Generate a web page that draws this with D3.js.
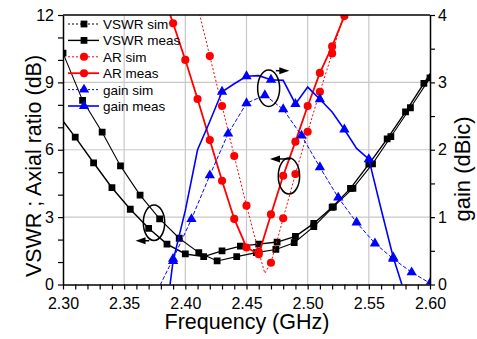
<!DOCTYPE html>
<html>
<head>
<meta charset="utf-8">
<script src="https://cdn.jsdelivr.net/npm/d3@7/dist/d3.min.js"></script>
<style>
body { margin: 0; background: #fff; }
text { font-family: "Liberation Sans", Arial, sans-serif; fill: #000; }
</style>
</head>
<body>
<div class="chart"></div>
<script>
// VSWR (left axis, dB scale)
const vswrSimF = [2.300, 2.316, 2.332, 2.347, 2.363, 2.379, 2.395, 2.411, 2.426, 2.442,
	2.458, 2.474, 2.489, 2.505, 2.521, 2.537, 2.553, 2.568, 2.584, 2.600];
const vswrSimV = [10.3, 8.2, 6.78, 5.28, 3.98, 2.92, 2.06, 1.42, 1.05, 1.24,
	1.42, 1.56, 1.86, 2.58, 3.46, 4.28, 5.37, 6.58, 7.87, 9.2];

const vswrMeasF = [2.295, 2.31, 2.325, 2.34, 2.355, 2.37, 2.385, 2.40, 2.415, 2.43, 2.445,
	2.46, 2.475, 2.49, 2.505, 2.52, 2.535, 2.55, 2.565, 2.58, 2.595, 2.61];
const vswrMeasV = [7.64, 6.56, 5.42, 4.31, 3.35, 2.50, 1.80, 1.36, 1.24, 1.50, 1.71,
	1.80, 1.89, 2.14, 2.72, 3.44, 4.28, 5.36, 6.48, 7.69, 8.96, 10.2];

// axial ratio (left axis)
const arSimF = [2.41, 2.42, 2.43, 2.44, 2.45, 2.46, 2.465, 2.47, 2.48, 2.49, 2.50, 2.51, 2.52, 2.53];
const arSimV = [12.4, 10.17, 7.95, 5.72, 3.51, 1.45, 0.5, 0.97, 2.95, 4.92, 6.80, 8.58, 10.29, 12.1];
const arSimMarks = [2.41, 2.42, 2.43, 2.44, 2.45, 2.46, 2.47, 2.48, 2.49, 2.50, 2.51, 2.52, 2.53];

const arMeasF = [2.38, 2.39, 2.40, 2.41, 2.42, 2.43, 2.44, 2.45, 2.46, 2.47, 2.48, 2.49, 2.50, 2.51, 2.52, 2.53];
const arMeasV = [13.2, 11.63, 10.0, 8.26, 6.43, 4.62, 2.92, 1.65, 1.35, 3.12, 4.84, 6.36, 7.95, 9.42, 10.6, 11.95];

// gain (right axis, dBic)
const gainSimF = [2.375, 2.39, 2.405, 2.42, 2.435, 2.45, 2.465, 2.48, 2.495, 2.51, 2.525, 2.54, 2.555, 2.57, 2.585, 2.60];
const gainSimV = [-0.17, 0.38, 0.97, 1.62, 2.24, 2.69, 2.81, 2.60, 2.21, 1.74, 1.29, 0.92, 0.61, 0.38, 0.18, 0.02];

const gainMeasF = [2.38, 2.39, 2.40, 2.41, 2.42, 2.43, 2.44, 2.45, 2.46, 2.47, 2.48, 2.49, 2.50,
	2.51, 2.52, 2.53, 2.54, 2.55, 2.56, 2.57, 2.58];
const gainMeasV = [-1.05, 0.35, 1.1, 2.0, 2.42, 2.86, 2.98, 3.09, 3.10, 3.04, 3.03, 2.68, 2.93,
	2.75, 2.56, 2.30, 2.02, 1.86, 1.12, 0.40, -0.17];
const gainMeasMarks = [2.39, 2.43, 2.45, 2.47, 2.49, 2.51, 2.53, 2.55, 2.57];

const xTicks = [2.30, 2.35, 2.40, 2.45, 2.50, 2.55, 2.60];
const yLeftTicks = [0, 3, 6, 9, 12];
const yRightTicks = [0, 1, 2, 3, 4];

let width = 477, height = 339;
let pLeft = 63, pRight = 430, pTop = 15, pBottom = 284.5;

let svg = d3.select(".chart")
	.append("svg")
	.attr("width", width)
	.attr("height", height);

let x = d3.scaleLinear().domain([2.30, 2.60]).range([pLeft, pRight]);
let yL = d3.scaleLinear().domain([0, 12]).range([pBottom, pTop]);
let yR = d3.scaleLinear().domain([0, 4]).range([pBottom, pTop]);

svg.append("clipPath").attr("id", "plot")
	.append("rect")
	.attr("x", pLeft).attr("y", pTop)
	.attr("width", pRight - pLeft).attr("height", pBottom - pTop);

// grid
let grid = svg.append("g");
grid.selectAll(".gx")
	.data(xTicks.slice(1, -1))
	.enter().append("line")
	.attr("x1", d => x(d)).attr("x2", d => x(d))
	.attr("y1", pTop).attr("y2", pBottom)
	.attr("stroke", "#c8c8c8").attr("stroke-width", 1.2);
grid.selectAll(".gy")
	.data(yLeftTicks.slice(1, -1))
	.enter().append("line")
	.attr("x1", pLeft).attr("x2", pRight)
	.attr("y1", d => yL(d)).attr("y2", d => yL(d))
	.attr("stroke", "#c8c8c8").attr("stroke-width", 1.2);

let series = [
	{name: "VSWR sim", f: vswrSimF, v: vswrSimV, y: yL, color: "#000", width: 1.1, dash: null, legendDash: "2,2", shape: d3.symbolSquare, size: 46},
	{name: "VSWR meas", f: vswrMeasF, v: vswrMeasV, y: yL, color: "#000", width: 1.4, dash: null, legendDash: null, shape: d3.symbolSquare, size: 46},
	{name: "AR sim", f: arSimF, v: arSimV, y: yL, color: "#ff0000", width: 1, dash: "2,2", legendDash: "2,2", shape: d3.symbolCircle, size: 52, marks: arSimMarks},
	{name: "AR meas", f: arMeasF, v: arMeasV, y: yL, color: "#ff0000", width: 1.8, dash: null, legendDash: null, shape: d3.symbolCircle, size: 52},
	{name: "gain sim", f: gainSimF, v: gainSimV, y: yR, color: "#0000ff", width: 1, dash: "4,2", legendDash: "2,2", shape: d3.symbolTriangle, size: 46},
	{name: "gain meas", f: gainMeasF, v: gainMeasV, y: yR, color: "#0000ff", width: 1.6, dash: null, legendDash: null, shape: d3.symbolTriangle, size: 46, marks: gainMeasMarks}
];

let plot = svg.append("g").attr("clip-path", "url(#plot)");

series.forEach(s => {
	let pts = s.f.map((f, i) => ({f: f, v: s.v[i]}));
	let line = d3.line().x(d => x(d.f)).y(d => s.y(d.v));
	plot.append("path")
		.datum(pts)
		.attr("d", line)
		.attr("fill", "none")
		.attr("stroke", s.color)
		.attr("stroke-width", s.width)
		.attr("stroke-dasharray", s.dash);
	let marked = s.marks ? pts.filter(p => s.marks.some(m => Math.abs(m - p.f) < 1e-6)) : pts;
	plot.selectAll(null)
		.data(marked)
		.enter().append("path")
		.attr("d", d3.symbol().type(s.shape).size(s.size))
		.attr("transform", d => "translate(" + x(d.f) + "," + s.y(d.v) + ")")
		.attr("fill", s.color);
});

// axes
let xAxis = d3.axisBottom(x)
	.tickValues(d3.range(2.30, 2.6001, 0.01))
	.tickSize(5).tickSizeOuter(0)
	.tickFormat(d => xTicks.some(t => Math.abs(t - d) < 1e-6) ? d3.format(".2f")(d) : "");
let gx = svg.append("g").attr("transform", "translate(0," + pBottom + ")").call(xAxis);

let yAxisL = d3.axisLeft(yL)
	.tickValues(d3.range(0, 12.5, 1))
	.tickSize(5).tickSizeOuter(0)
	.tickFormat(d => yLeftTicks.includes(d) ? d : "");
let gl = svg.append("g").attr("transform", "translate(" + pLeft + ",0)").call(yAxisL);

let yAxisR = d3.axisRight(yR)
	.tickValues(d3.range(0, 4.01, 0.5))
	.tickSize(5).tickSizeOuter(0)
	.tickFormat(d => yRightTicks.includes(d) ? d : "");
let gr = svg.append("g").attr("transform", "translate(" + pRight + ",0)").call(yAxisR);

[gx, gl, gr].forEach(g => {
	g.select(".domain").attr("stroke", "#000").attr("stroke-width", 1.5);
	g.selectAll(".tick line").attr("stroke", "#000").attr("stroke-width", 1.2);
	g.selectAll(".tick text").attr("font-size", 16).attr("font-family", "Liberation Sans, Arial, sans-serif");
});
gx.selectAll(".tick text").attr("y", 24).attr("dy", 0);
gl.selectAll(".tick text").attr("x", -9);
gr.selectAll(".tick text").attr("x", 8);

svg.append("line")
	.attr("x1", pLeft).attr("x2", pRight)
	.attr("y1", pTop).attr("y2", pTop)
	.attr("stroke", "#000").attr("stroke-width", 1.5);

// axis titles
svg.append("text")
	.attr("x", 247).attr("y", 329)
	.attr("text-anchor", "middle")
	.attr("font-size", 21.5)
	.text("Frequency (GHz)");

svg.append("text")
	.attr("transform", "translate(41,166) rotate(-90)")
	.attr("text-anchor", "middle")
	.attr("font-size", 21.5)
	.text("VSWR ; Axial ratio (dB)");

svg.append("text")
	.attr("transform", "translate(470,169) rotate(-90)")
	.attr("text-anchor", "middle")
	.attr("font-size", 22)
	.text("gain (dBic)");

// legend
let legend = svg.append("g");
series.forEach((s, i) => {
	let ly = 24 + i * 16.4;
	legend.append("line")
		.attr("x1", 68).attr("x2", 99)
		.attr("y1", ly).attr("y2", ly)
		.attr("stroke", s.color)
		.attr("stroke-width", s.width)
		.attr("stroke-dasharray", s.legendDash);
	legend.append("path")
		.attr("d", d3.symbol().type(s.shape).size(s.size))
		.attr("transform", "translate(84," + ly + ")")
		.attr("fill", s.color);
	legend.append("text")
		.attr("x", 103).attr("y", ly + 5)
		.attr("font-size", 13.5)
		.text(s.name);
});

// annotations: ellipses with arrows pointing to the axis they belong to
let notes = [
	{f: 2.3744, v: 2.75, rx: 10.7, ry: 17.7, from: 2.3705, to: 2.3593, av: 1.95},
	{f: 2.4847, v: 4.83, rx: 10.7, ry: 18, from: 2.4860, to: 2.4692, av: 5.59},
	{f: 2.4681, v: 8.74, rx: 11, ry: 18.3, from: 2.4740, to: 2.4850, av: 9.52}
];
let ann = svg.append("g");
notes.forEach(n => {
	ann.append("ellipse")
		.attr("cx", x(n.f)).attr("cy", yL(n.v))
		.attr("rx", n.rx).attr("ry", n.ry)
		.attr("fill", "none").attr("stroke", "#000").attr("stroke-width", 1.5);
	let x0 = x(n.from), x1 = x(n.to), ay = yL(n.av);
	let dir = x1 > x0 ? 1 : -1;
	ann.append("line")
		.attr("x1", x0).attr("x2", x1 - dir * 6)
		.attr("y1", ay).attr("y2", ay)
		.attr("stroke", "#000").attr("stroke-width", 1.5);
	ann.append("path")
		.attr("d", "M" + x1 + "," + ay + "L" + (x1 - dir * 10) + "," + (ay - 3.5) + "L" + (x1 - dir * 10) + "," + (ay + 3.5) + "Z")
		.attr("fill", "#000");
});
</script>
</body>
</html>
